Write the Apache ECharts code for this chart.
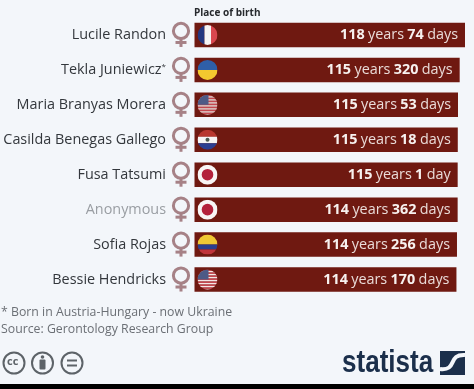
<!DOCTYPE html>
<html>
<head>
<meta charset="utf-8">
<style>
  html, body { margin: 0; padding: 0; background: #000; }
  #main { width: 474px; height: 384px; }
</style>
<script src="https://cdn.jsdelivr.net/npm/echarts@6/dist/echarts.min.js"></script>
</head>
<body>
<div id="main"></div>
<script>
var names = ['Lucile Randon', 'Tekla Juniewicz', 'Maria Branyas Morera', 'Casilda Benegas Gallego', 'Fusa Tatsumi', 'Anonymous', 'Sofia Rojas', 'Bessie Hendricks'];
var years = [118, 115, 115, 115, 115, 114, 114, 114];
var days = [74, 320, 53, 18, 1, 362, 256, 170];
var flags = ['fr', 'ua', 'us', 'py', 'jp', 'jp', 'co', 'us'];

var barColor = '#6f1911';
var font = '"Open Sans", "Noto Sans", sans-serif';

var ages = years.map(function (y, i) { return y + days[i] / 365; });
var rows = names.map(function (n, i) { return [0, i]; });

// stripes of a flag inside its circle (r = 10)
function flagParts(code, cx, cy) {
  var r = 10, out = [];
  function rect(x, y, w, h, c) {
    out.push({ type: 'rect', shape: { x: cx + x, y: cy + y, width: w, height: h }, style: { fill: c } });
  }
  if (code === 'fr') {
    rect(-r, -r, 7, 20, '#24367f'); rect(-3, -r, 6.5, 20, '#f6f4f4'); rect(3.5, -r, 6.5, 20, '#d9474f');
  } else if (code === 'ua') {
    rect(-r, -r, 20, 10, '#2f5fa8'); rect(-r, 0, 20, 10, '#f3c92f');
  } else if (code === 'us') {
    for (var i = 0; i < 7; i++) {
      rect(-r, -r + i * 3, 20, 1.5, '#c4484f'); rect(-r, -r + i * 3 + 1.5, 20, 1.5, '#f3e6e4');
    }
    rect(-r, -r, 11, 10, '#4d5a86');
  } else if (code === 'py') {
    rect(-r, -r, 20, 7, '#b8372f'); rect(-r, -3, 20, 6.5, '#f6f4f4'); rect(-r, 3.5, 20, 6.5, '#2c3f92');
    out.push({ type: 'circle', shape: { cx: cx, cy: cy, r: 2 }, style: { fill: '#4c5a50' } });
  } else if (code === 'jp') {
    rect(-r, -r, 20, 20, '#f8f5f5');
    out.push({ type: 'circle', shape: { cx: cx, cy: cy, r: 5.8 }, style: { fill: '#b3213b' } });
  } else if (code === 'co') {
    rect(-r, -r, 20, 10, '#f0c835'); rect(-r, 0, 20, 5, '#2b3f8e'); rect(-r, 5, 20, 5, '#c0343a');
  }
  return out;
}

var option = {
  backgroundColor: '#f3f6fa',
  animation: false,
  grid: { left: 194.5, right: 9, top: 17.5, height: 279.5 },
  xAxis: { type: 'value', min: 0, max: 'dataMax', show: false },
  yAxis: {
    type: 'category',
    inverse: true,
    data: names,
    axisLine: { show: false },
    axisTick: { show: false },
    splitLine: { show: false },
    axisLabel: {
      margin: 28.5,
      fontFamily: font,
      fontSize: 14.4,
      color: '#33373c',
      formatter: function (v) {
        if (v === 'Anonymous') return '{gray|' + v + '}';
        if (v === 'Tekla Juniewicz') return v + '{sup|*}';
        return v;
      },
      rich: {
        gray: { fontFamily: font, fontSize: 14.4, color: '#9a9ea3' },
        sup: { fontFamily: font, fontSize: 8, color: '#33373c', verticalAlign: 'top', padding: [0, 0, 5, 0] }
      }
    }
  },
  series: [
    {
      type: 'bar',
      barWidth: 24.5,
      itemStyle: { color: barColor },
      silent: true,
      data: ages,
      label: {
        show: true,
        position: 'insideRight',
        distance: 7,
        formatter: function (p) {
          return '{b|' + years[p.dataIndex] + '} {n|years} {b|' + days[p.dataIndex] + '} {n|' + (days[p.dataIndex] === 1 ? 'day' : 'days') + '}';
        },
        rich: {
          b: { fontFamily: font, fontSize: 14.4, fontWeight: 'bold', color: '#f7f1ef' },
          n: { fontFamily: font, fontSize: 14.4, color: '#eadcd9' }
        }
      }
    },
    {
      // venus sign left of each bar
      type: 'custom',
      coordinateSystem: 'cartesian2d',
      silent: true,
      clip: false,
      encode: { x: 0, y: 1 },
      data: rows,
      renderItem: function (params, api) {
        var p = api.coord([0, api.value(1)]);
        var x = p[0] - 13.5, y = p[1];
        var line = { stroke: '#a68186', lineWidth: 3, fill: 'none' };
        return {
          type: 'group',
          children: [
            { type: 'circle', shape: { cx: x, cy: y - 4, r: 7.6 }, style: line },
            { type: 'line', shape: { x1: x, y1: y + 4, x2: x, y2: y + 12 }, style: line },
            { type: 'line', shape: { x1: x - 5.5, y1: y + 7.5, x2: x + 5.5, y2: y + 7.5 }, style: line }
          ]
        };
      }
    },
    {
      // round flag at the start of each bar
      type: 'custom',
      coordinateSystem: 'cartesian2d',
      silent: true,
      clip: false,
      encode: { x: 0, y: 1 },
      data: rows,
      z: 5,
      renderItem: function (params, api) {
        var p = api.coord([0, api.value(1)]);
        var cx = p[0] + 13, cy = p[1];
        return {
          type: 'group',
          clipPath: { type: 'circle', shape: { cx: cx, cy: cy, r: 10 } },
          children: flagParts(flags[params.dataIndex], cx, cy)
        };
      }
    }
  ],
  graphic: [
    { type: 'text', left: 194, top: 8.5, style: { text: 'Place of birth', font: 'bold 10px ' + font, fill: '#26292d' } },
    { type: 'text', left: 1, top: 306, style: { text: '* Born in Austria-Hungary - now Ukraine', font: '12.3px ' + font, fill: '#6b6f75' } },
    { type: 'text', left: 1, top: 323, style: { text: 'Source: Gerontology Research Group', font: '12.3px ' + font, fill: '#6b6f75' } },

    { type: 'circle', shape: { cx: 14, cy: 363, r: 10.5 }, style: { fill: 'none', stroke: '#5d6368', lineWidth: 2 } },
    { type: 'text', left: 7, top: 356, style: { text: 'cc', font: 'bold 11px ' + font, fill: '#5d6368' } },
    { type: 'circle', shape: { cx: 42.5, cy: 363, r: 10.5 }, style: { fill: 'none', stroke: '#5d6368', lineWidth: 2 } },
    { type: 'circle', shape: { cx: 42.5, cy: 357, r: 1.8 }, style: { fill: '#5d6368' } },
    { type: 'rect', shape: { x: 39.5, y: 359.5, width: 6, height: 10, r: 1 }, style: { fill: '#5d6368' } },
    { type: 'circle', shape: { cx: 72, cy: 363, r: 10.5 }, style: { fill: 'none', stroke: '#5d6368', lineWidth: 2 } },
    { type: 'rect', shape: { x: 67, y: 359.5, width: 10, height: 2 }, style: { fill: '#5d6368' } },
    { type: 'rect', shape: { x: 67, y: 364.5, width: 10, height: 2 }, style: { fill: '#5d6368' } },

    { type: 'text', left: 342, top: 348, scaleX: 0.84, style: { text: 'statista', font: 'bold 31px "Liberation Sans", sans-serif', fill: '#1b2f4b' } },
    { type: 'rect', shape: { x: 440, y: 351, width: 25, height: 24 }, style: { fill: '#1b2f4b' } },
    { type: 'bezierCurve', shape: { x1: 440, y1: 369, x2: 465, y2: 355, cpx1: 458, cpy1: 371, cpx2: 447, cpy2: 354 }, style: { fill: 'none', stroke: '#f3f6fa', lineWidth: 4 } }
  ]
};

var chart = echarts.init(document.getElementById('main'));
chart.setOption(option);
</script>
</body>
</html>
